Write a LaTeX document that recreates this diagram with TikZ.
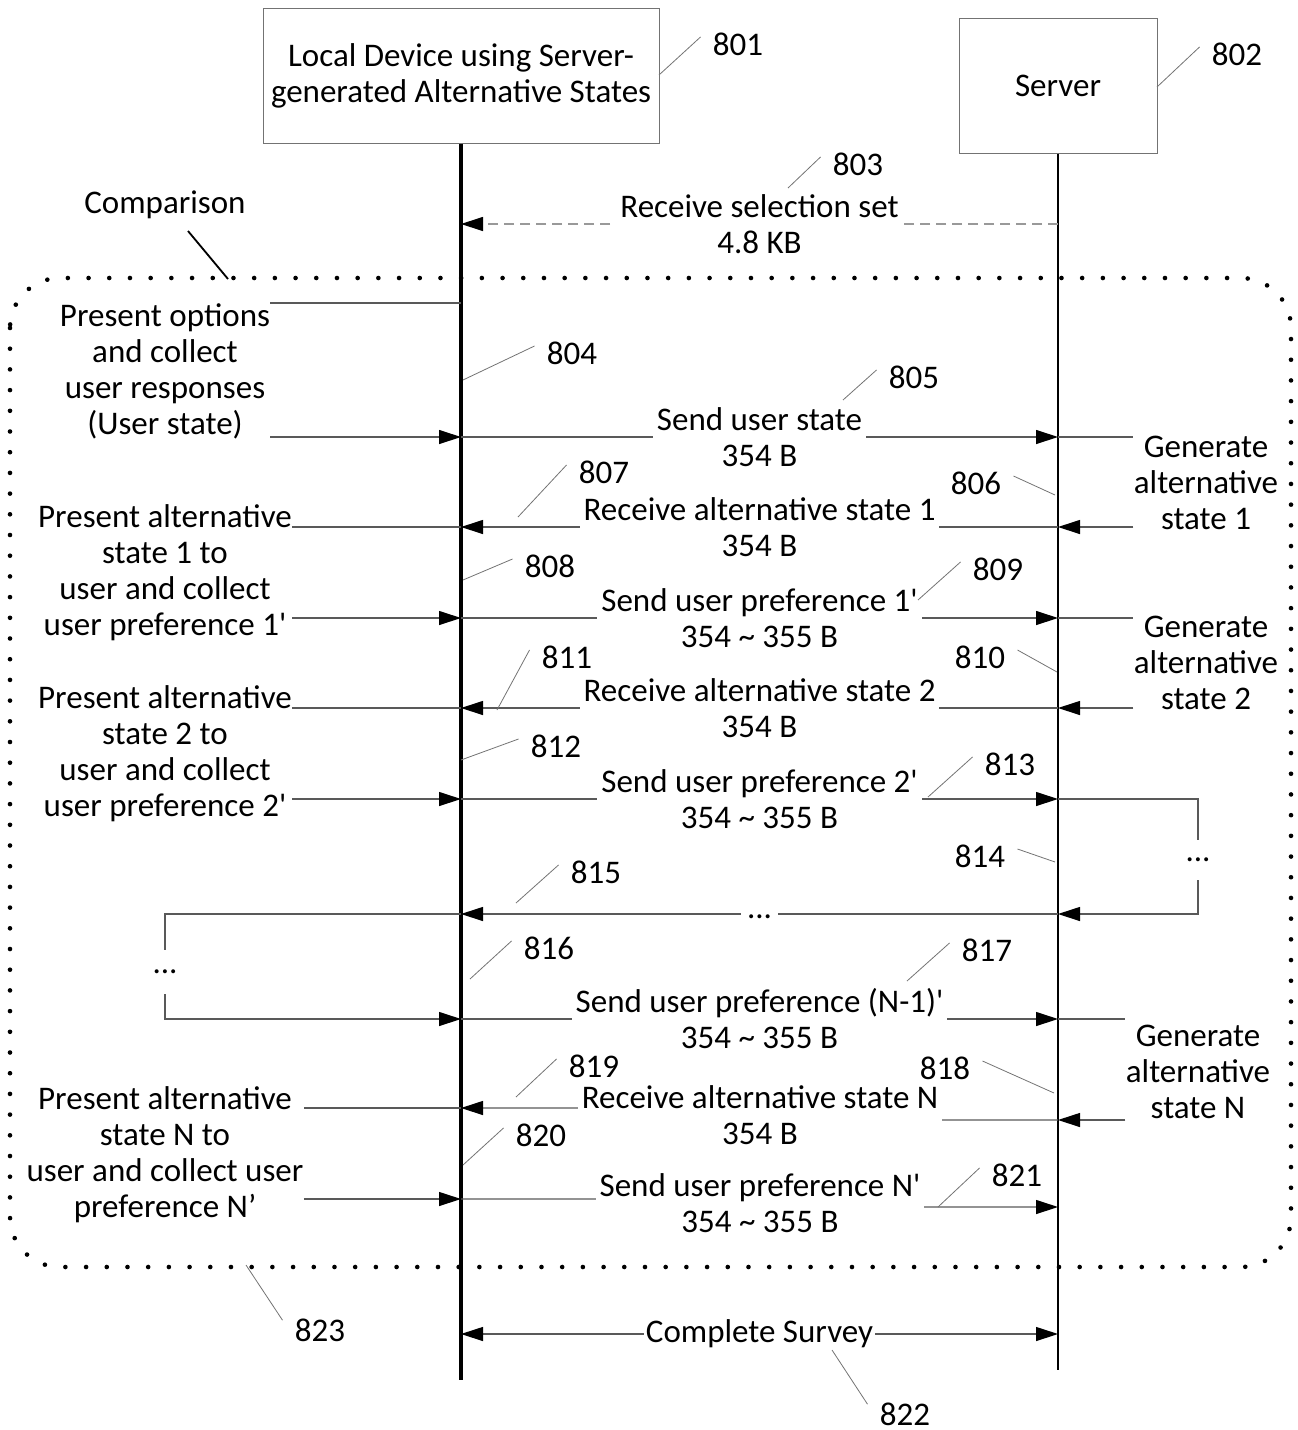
\documentclass[tikz,border=0pt]{standalone}
\usepackage{fontspec}
\setmainfont{Carlito}
\usetikzlibrary{arrows.meta}

\begin{document}
\begin{tikzpicture}[x = 0.5pt, y = -0.5pt,
	every node/.style = {font = \fontsize{16.5}{18}\selectfont, inner sep = 0pt},
	actor/.style = {draw = black!55, line width = 0.5pt, align = center},
	wire/.style = {draw = black!65, line width = 0.6pt},
	msg/.style = {wire, -{Triangle[length = 11pt, width = 7pt, color = black]}},
	msgtxt/.style = {fill = white, align = center, inner xsep = 2pt},
	side/.style = {align = center},
	lead/.style = {draw = black!55, line width = 0.4pt}]
	\useasboundingbox (0, 0) rectangle (1297, 1430);

	\node[actor, minimum width = 198pt, minimum height = 67.5pt] (local) at (461, 75.5) {Local Device using Server-\\generated Alternative States};
	\node[actor, minimum width = 99pt, minimum height = 67.5pt] (server) at (1058, 85.5) {Server};
	\coordinate (lend) at (461, 1380);
	\coordinate (send) at (1058, 1370);
	\draw [line width = 1.7pt] (local.south) -- (lend);
	\draw [line width = 1.2pt] (server.south) -- (send);

	\draw [dash pattern = on 0pt off 10.35pt, line cap = round, line width = 2.3pt, rounded corners = 25pt] (10, 278) rectangle (1291, 1267);
	\node (cmp) at (165, 205) {Comparison};
	\draw [line width = 0.9pt] (188, 231) -- (228, 279);

	\foreach \n/\ly/\sy in {0/224/224, 1/437/437, 2/527/527, 3/618/618, 4/708/708, 5/799/799, 6/914/914, 7/1019/1019, 8/1108/1120, 9/1199/1207, 10/1334/1334}{
		\coordinate (l\n) at (461, \ly);
		\coordinate (s\n) at (1058, \sy);}

	\draw [msg, draw = black!40, dash pattern = on 5pt off 3pt] (s0) -- node[msgtxt] {Receive selection set\\4.8 KB} (l0);
	\draw [msg] (l1) -- node[msgtxt] {Send user state\\354 B} (s1);
	\draw [msg] (s2) -- node[msgtxt] {Receive alternative state 1\\354 B} (l2);
	\draw [msg] (l3) -- node[msgtxt] {Send user preference 1\textquotesingle\\354 \textasciitilde{} 355 B} (s3);
	\draw [msg] (s4) -- node[msgtxt] {Receive alternative state 2\\354 B} (l4);
	\draw [msg] (l5) -- node[msgtxt] {Send user preference 2\textquotesingle\\354 \textasciitilde{} 355 B} (s5);
	\draw [msg] (s6) -- node[fill = white, inner xsep = 3pt, inner ysep = 3pt, yshift = -1.5pt] {...} (l6);
	\draw [msg] (l7) -- node[msgtxt] {Send user preference (N-1)\textquotesingle\\354 \textasciitilde{} 355 B} (s7);
	\draw [msg] (s8) -- ++(-128, 0) -- ([shift = {(129, 0)}]l8) -- (l8);
	\node[msgtxt] (rN) at (760, 1115) {Receive alternative state N\\354 B};
	\draw [msg] (l9) -- ++(149, 0) -- ([shift = {(-148, 0)}]s9) -- (s9);
	\node[msgtxt] (sN) at (760, 1203) {Send user preference N\textquotesingle\\354 \textasciitilde{} 355 B};
	\draw [wire, {Triangle[length = 11pt, width = 7pt, color = black]}-{Triangle[length = 11pt, width = 7pt, color = black]}] (l10) -- node[fill = white, inner xsep = 1pt, inner ysep = 2pt] {Complete Survey} (s10);

	\node[side] (po) at (165, 371) {Present options\\and collect\\user responses\\(User state)};
	\node[side] (pa1) at (165, 573) {Present alternative\\state 1 to\\user and collect\\user preference 1\textquotesingle};
	\node[side] (pa2) at (165, 754) {Present alternative\\state 2 to\\user and collect\\user preference 2\textquotesingle};
	\node[side] (paN) at (165, 1155) {Present alternative\\state N to\\user and collect user\\preference N’};
	\node[minimum height = 22pt] (dl) at (165, 972) {...};
	\draw [wire] (po.north east) -- (po.north east -| local.south);
	\draw [msg] (po.east |- l1) -- (l1);
	\draw [wire] (l2) -- (pa1.east |- l2);
	\draw [msg] (pa1.east |- l3) -- (l3);
	\draw [wire] (l4) -- (pa2.east |- l4);
	\draw [msg] (pa2.east |- l5) -- (l5);
	\draw [wire] (l6) -| (dl.north);
	\draw [msg] (dl.south) |- (l7);
	\draw [wire] (l8) -- (paN.east |- l8);
	\draw [msg] (paN.east |- l9) -- (l9);

	\node[side] (g1) at (1206, 483) {Generate\\alternative\\state 1};
	\node[side] (g2) at (1206, 663) {Generate\\alternative\\state 2};
	\node[side] (gN) at (1198, 1072) {Generate\\alternative\\state N};
	\node[minimum height = 20pt] (dr) at (1198, 860) {...};
	\draw [wire] (s1) -- (g1.west |- s1);
	\draw [msg] (g1.west |- s2) -- (s2);
	\draw [wire] (s3) -- (g2.west |- s3);
	\draw [msg] (g2.west |- s4) -- (s4);
	\draw [wire] (s5) -| (dr.north);
	\draw [msg] (dr.south) |- (s6);
	\draw [wire] (s7) -- (gN.west |- s7);
	\draw [msg] (gN.west |- s8) -- (s8);

	\foreach \num/\x/\y/\fx/\fy in {801/738/44/659/75, 802/1237/54/1157/87, 803/858/164/788/188, 804/572/353/463/380, 805/914/377/843/400, 807/604/472/518/517, 808/550/566/463/580, 809/998/569/918/600, 811/567/657/497/710, 812/556/746/461/760, 813/1010/764/928/797, 815/596/872/516/903, 816/549/948/470/979, 817/987/950/907/981, 819/594/1066/516/1097, 820/541/1135/463/1165, 821/1017/1175/938/1207}{
		\node (n\num) at (\x, \y) {\num};
		\draw [lead] (\fx, \fy) -- ([shift = {(-12, -7)}]n\num.west);}
	\foreach \num/\x/\y/\fx/\fy in {806/976/483/1055/495, 810/980/657/1057/672, 814/980/856/1055/862, 818/945/1068/1054/1093}{
		\node (n\num) at (\x, \y) {\num};
		\draw [lead] (\fx, \fy) -- ([shift = {(12, -7)}]n\num.east);}
	\foreach \num/\x/\y/\fx/\fy in {822/905/1414/832/1350, 823/320/1330/246/1265}{
		\node (n\num) at (\x, \y) {\num};
		\draw [lead] (\fx, \fy) -- ([shift = {(-12, 2)}]n\num.north west);}
\end{tikzpicture}
\end{document}
